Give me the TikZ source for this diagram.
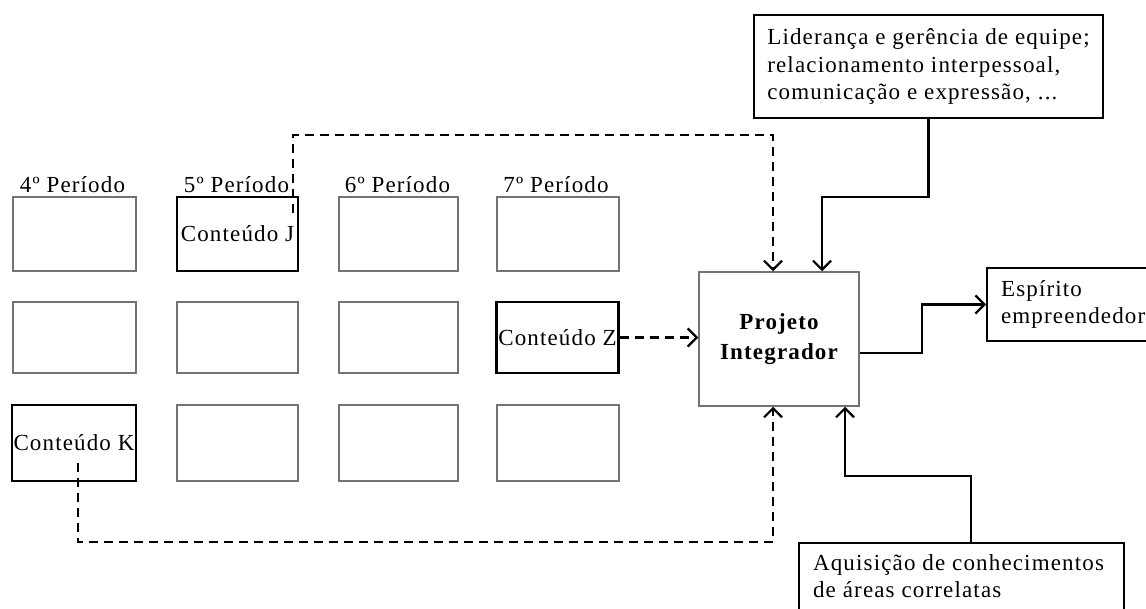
\documentclass[tikz,border=0pt]{standalone}
\usepackage{fontspec}
\setmainfont{Liberation Serif}[LetterSpace=5]
\usetikzlibrary{arrows.meta}
\begin{document}
\begin{tikzpicture}[x=1pt,y=-1pt,
  every node/.style={font=\fontsize{23}{27.5}\selectfont, inner sep=0pt},
  graybox/.style={draw=black!55, line width=1.5pt},
  blackbox/.style={draw=black, line width=2.2pt},
  period/.style={},
  conn/.style={line width=2.2pt, -{Straight Barb[length=9pt,width=18pt]}},
  dconn/.style={conn, dash pattern=on 9pt off 6pt},
]
\useasboundingbox (0,0) rectangle (1146,609);

% period labels
\node[period] (p4) at (72.5,185) {4º Período};
\node[period] (p5) at (236.5,185) {5º Período};
\node[period] (p6) at (397.5,185) {6º Período};
\node[period] (p7) at (556,185) {7º Período};

% grid row 1
\node[graybox, minimum width=123pt, minimum height=74pt] (g11) at (74.5,234) {};
\node[blackbox, minimum width=121pt, minimum height=74pt] (cj) at (237.5,234) {Conteúdo J};
\node[graybox, minimum width=119pt, minimum height=74pt] (g31) at (398.5,234) {};
\node[graybox, minimum width=122pt, minimum height=74pt] (g41) at (558,234) {};
% row 2
\node[graybox, minimum width=123pt, minimum height=71pt] (g12) at (74.5,337.5) {};
\node[graybox, minimum width=121pt, minimum height=71pt] (g22) at (237.5,337.5) {};
\node[graybox, minimum width=119pt, minimum height=71pt] (g32) at (398.5,337.5) {};
\node[blackbox, minimum width=122pt, minimum height=71pt] (cz) at (557.5,337.5) {Conteúdo Z};
% row 3
\node[blackbox, minimum width=124pt, minimum height=76pt] (ck) at (74,443) {Conteúdo K};
\node[graybox, minimum width=121pt, minimum height=76pt] (g23) at (237.5,443) {};
\node[graybox, minimum width=119pt, minimum height=76pt] (g33) at (398.5,443) {};
\node[graybox, minimum width=122pt, minimum height=76pt] (g43) at (558,443) {};

% central box
\node[graybox, minimum width=160pt, minimum height=134pt, align=center, font=\fontsize{23}{30}\selectfont\bfseries] (pi) at (779,339) {Projeto\\Integrador};

% top box
\node[blackbox, minimum width=349pt, minimum height=103pt, align=left] (top) at (928.5,66.5)
  {Liderança e gerência de equipe;\\relacionamento interpessoal,\\comunicação e expressão, ...};

% right box
\node[blackbox, anchor=west, text width=152pt, inner xsep=14pt, minimum height=73pt, align=left] (esp) at (986,304.5)
  {Espírito\\empreendedor};

% bottom box
\node[blackbox, anchor=north west, inner xsep=14pt, inner ysep=11pt] (bot) at (798,542)
  {\parbox[t][70pt][t]{297pt}{Aquisição de conhecimentos\\de áreas correlatas}};

% connectors
\coordinate (jsrc) at (293,213);
\coordinate (ksrc) at (78,463);
\draw[dconn] (jsrc) |- (773,135) -- ([xshift=-6pt]pi.north);
\draw[dconn] (cz.east) -- (cz.east -| pi.west);
\draw[dconn] (ksrc) |- (773,542) -- ([xshift=-6pt]pi.south);
\draw[conn] (top.south) |- (822,197) -- ([xshift=43pt]pi.north);
\draw[conn] ([xshift=9.5pt]bot.north) |- (845,476) -- ([xshift=66pt]pi.south);
\draw[conn] ([yshift=-14pt]pi.east) -- (922,353) |- (esp.west);
\end{tikzpicture}
\end{document}
